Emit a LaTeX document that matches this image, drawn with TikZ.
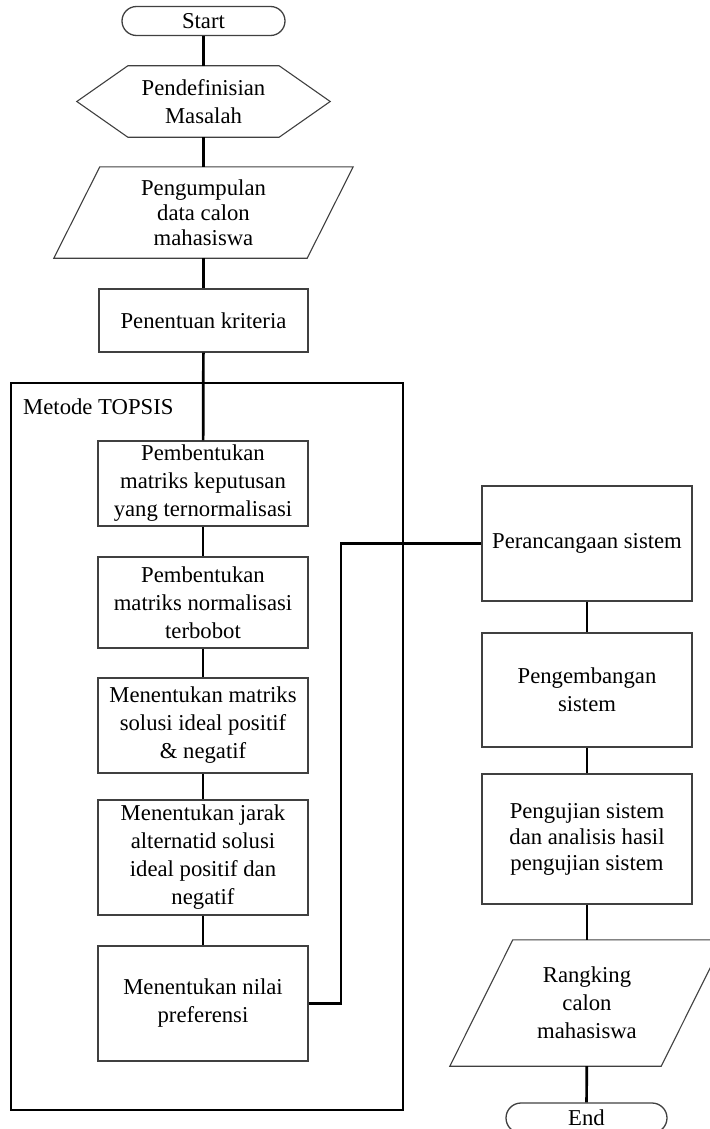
\documentclass[tikz,border=0pt]{standalone}
\usepackage{fontspec}
\setmainfont{Liberation Serif}
\usetikzlibrary{shapes.misc}

\begin{document}
\begin{tikzpicture}[x=1pt,y=-1pt]

%
% Styles
%
\tikzstyle{process} = [rectangle,draw=black!75,line width=1.3pt,align=center,inner sep=0pt,font=\fontsize{22.7}{28}\selectfont]
\tikzstyle{terminal} = [rounded rectangle,draw=black!75,line width=1.3pt,inner sep=0pt,font=\fontsize{22.7}{28}\selectfont]
\tikzstyle{plain} = [rectangle,align=center,inner sep=0pt,font=\fontsize{22.7}{28}\selectfont]
\tikzstyle{outline} = [draw=black!75,line width=1.1pt]
\tikzstyle{link} = [line width=2.7pt]

\useasboundingbox (0,0) rectangle (709,1129);

% outer frame
\node[draw,line width=2.8pt,minimum width=392,minimum height=727,inner sep=0pt] (topsis) at (207, 746.5) {};
\node[plain,anchor=west] (method) at (23, 407) {Metode TOPSIS};

% left column
\node[terminal,minimum width=163,minimum height=29] (start) at (203.5, 21) {Start};
\node[plain,minimum width=253,minimum height=71] (define) at (203.5, 101.5) {Pendefinisian\\Masalah};
\node[plain,minimum width=253,minimum height=91,font=\fontsize{22.7}{25}\selectfont] (collect) at (203.5, 212.5) {Pengumpulan\\data calon\\mahasiswa};
\node[process,minimum width=209,minimum height=63] (criteria) at (203.5, 320.5) {Penentuan kriteria};
\node[process,minimum width=210,minimum height=85] (decision) at (203, 483.5) {Pembentukan\\matriks keputusan\\yang ternormalisasi};
\node[process,minimum width=210,minimum height=91] (weighted) at (203, 602.5) {Pembentukan\\matriks normalisasi\\terbobot};
\node[process,minimum width=210,minimum height=95] (ideal) at (203, 725.5) {Menentukan matriks\\solusi ideal positif\\\& negatif};
\node[process,minimum width=210,minimum height=115] (distance) at (203, 857.5) {Menentukan jarak\\alternatid solusi\\ideal positif dan\\negatif};
\node[process,minimum width=210,minimum height=115] (preference) at (203, 1003.5) {Menentukan nilai\\preferensi};

% right column
\node[process,minimum width=210,minimum height=115] (design) at (587, 543.5) {Perancangaan sistem};
\node[process,minimum width=210,minimum height=114] (develop) at (587, 690) {Pengembangan\\sistem};
\node[process,minimum width=210,minimum height=130,font=\fontsize{22.7}{26}\selectfont] (testing) at (587, 839) {Pengujian sistem\\dan analisis hasil\\pengujian sistem};
\node[plain,minimum width=211,minimum height=126] (ranking) at (587, 1003) {Rangking\\calon\\mahasiswa};
\node[terminal,minimum width=161,minimum height=30] (end) at (586.5, 1118) {End};

% shape outlines
\draw[outline] (define.west) -- ([xshift=51pt]define.north west) -- ([xshift=-51pt]define.north east)
  -- (define.east) -- ([xshift=-51pt]define.south east) -- ([xshift=51pt]define.south west) -- cycle;
\draw[outline] ([xshift=23pt]collect.north west) -- ([xshift=23pt]collect.north east)
  -- ([xshift=-23pt]collect.south east) -- ([xshift=-23pt]collect.south west) -- cycle;
\draw[outline] ([xshift=31.5pt]ranking.north west) -- ([xshift=31.5pt]ranking.north east)
  -- ([xshift=-31.5pt]ranking.south east) -- ([xshift=-31.5pt]ranking.south west) -- cycle;

% connectors
\coordinate (turn) at (341, 1003.5);
\draw[link] (start) -- (define);
\draw[link] (define) -- (collect);
\draw[link] (collect) -- (criteria);
\draw[link] (criteria) -- (decision);
\draw[link] (decision) -- (weighted);
\draw[link] (weighted) -- (ideal);
\draw[link] (ideal) -- (distance);
\draw[link] (distance) -- (preference);
\draw[link] (preference.east) -- (turn) |- (design.west);
\draw[link] (design) -- (develop);
\draw[link] (develop) -- (testing);
\draw[link] (testing) -- (ranking);
\draw[link] (ranking) -- (end);

\end{tikzpicture}
\end{document}
